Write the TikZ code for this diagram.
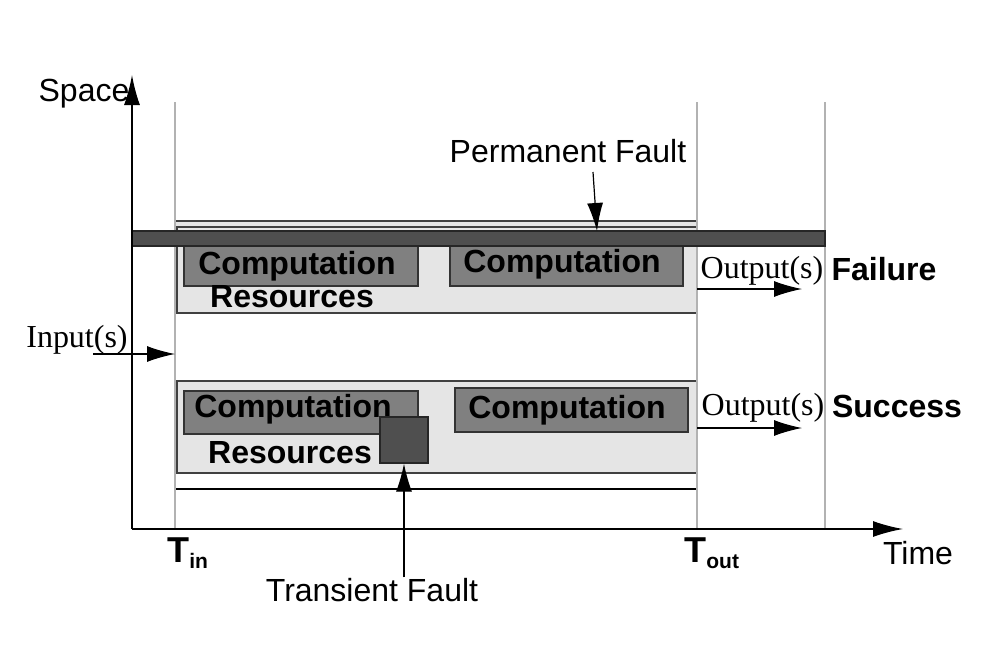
\documentclass[tikz,border=0pt]{standalone}
\usepackage{fontspec}
\setmainfont{Liberation Serif}
\setsansfont{Liberation Sans}
\usetikzlibrary{arrows.meta}
\tikzset{
  lbl/.style={font=\sffamily\fontsize{16}{18}\selectfont, inner sep=0pt, anchor=base},
  blbl/.style={lbl, font=\sffamily\bfseries\fontsize{16}{18}\selectfont},
  io/.style={font=\rmfamily\fontsize{16}{18}\selectfont, inner sep=0pt, anchor=base},
  tlbl/.style={font=\sffamily\bfseries\fontsize{18}{20}\selectfont, inner sep=0pt, anchor=base west},
  guide/.style={draw=black!30, line width=0.6pt},
  resbox/.style={draw=black!75, fill=black!10, line width=0.6pt},
  compbox/.style={draw=black!80, fill=black!50, line width=0.6pt},
  fault/.style={draw=black!85, fill=black!69, line width=0.6pt},
  arr/.style={-{Latex[length=14pt,width=8pt]}, line width=0.6pt},
  axis/.style={-{Latex[length=15pt,width=8pt]}, line width=0.75pt}
}
\newcommand{\tsub}[1]{\raisebox{-3pt}{\fontsize{10.5}{12}\selectfont #1}}
\begin{document}
\begin{tikzpicture}[x=0.5pt,y=-0.5pt]
    \useasboundingbox (0,0) rectangle (1008,648);
    % frame and resources
    \draw [line width=0.6pt] (175,221) -- (697,221);
    \draw [line width=0.6pt] (175,489) -- (697,489);
    \draw [resbox] (175,221) rectangle (697,227);
    \draw [resbox] (177,227) rectangle (697,313);
    \draw [resbox] (177,381) rectangle (697,473);
    \draw [compbox] (184,240) rectangle (418,286);
    \draw [compbox] (450,240) rectangle (683,286);
    \draw [compbox] (184,391) rectangle (418,434);
    \draw [compbox] (455,388) rectangle (688,432);
    % time marks
    \draw [guide] (175,102) -- (175,529);
    \draw [guide] (697,102) -- (697,529);
    \draw [guide] (825,102) -- (825,529);
    \draw [fault] (132,231) rectangle (825,246);
    % axes
    \coordinate (origin) at (132,529);
    \coordinate (ytop) at (132,75);
    \coordinate (xend) at (903,529);
    \draw [axis] (origin) -- (ytop);
    \draw [axis] (origin) -- (xend);
    \draw node [lbl] (space) at (84,101) {Space};
    \draw node [lbl] (time) at (918,564) {Time};
    \draw node [tlbl] (tin) at (167,562) {T\tsub{in}};
    \draw node [tlbl] (tout) at (684,562) {T\tsub{out}};
    % labels in boxes
    \draw node [blbl] (comp1) at (297,274) {Computation};
    \draw node [blbl] (comp2) at (562,272) {Computation};
    \draw node [blbl] (res1) at (292,307) {Resources};
    \draw node [blbl] (comp3) at (293,417) {Computation};
    \draw node [blbl] (comp4) at (567,418) {Computation};
    \draw node [blbl] (res2) at (290,463) {Resources};
    \node [fault, minimum width=24pt, minimum height=23pt] (tfbox) at (404,440) {};
    % faults
    \draw node [lbl] (pf) at (568,162) {Permanent Fault};
    \coordinate (pfa) at (593,172);
    \coordinate (pfb) at (597,231);
    \draw [arr] (pfa) -- (pfb);
    \draw node [lbl] (tf) at (372,601) {Transient Fault};
    \draw [arr] (tfbox.south |- tf.north) -- (tfbox.south);
    % inputs and outputs
    \draw node [io] (inp) at (77,347) {Input(s)};
    \coordinate (ina) at (93,354);
    \coordinate (inb) at (175,354);
    \draw [arr] (ina) -- (inb);
    \draw node [io] (out1) at (762,278) {Output(s)};
    \draw node [io] (out2) at (763,415) {Output(s)};
    \coordinate (outa) at (697,289);
    \coordinate (outb) at (802,289);
    \coordinate (outc) at (697,428);
    \coordinate (outd) at (802,428);
    \draw [arr] (outa) -- (outb);
    \draw [arr] (outc) -- (outd);
    \draw node [blbl] (fail) at (884,280) {Failure};
    \draw node [blbl] (succ) at (897,417) {Success};
  \end{tikzpicture}
\end{document}
